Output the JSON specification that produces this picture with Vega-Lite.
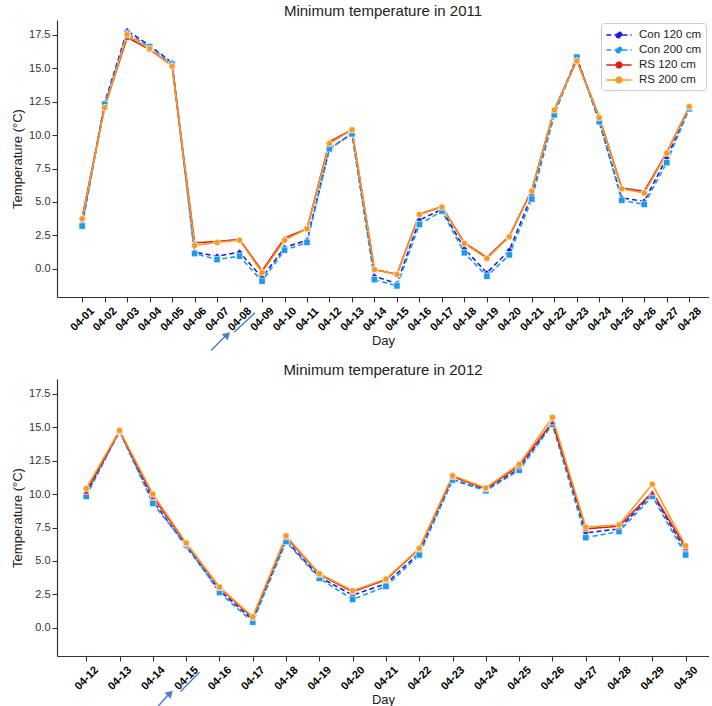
{
  "$schema": "https://vega.github.io/schema/vega-lite/v6.json",
  "padding": {"left": 11, "top": 4, "right": 0, "bottom": 0},
  "datasets": {
    "t2011": [
      {"day": "04-01", "Con 120 cm": 3.35, "Con 200 cm": 3.2, "RS 120 cm": 3.85, "RS 200 cm": 3.75},
      {"day": "04-02", "Con 120 cm": 12.4, "Con 200 cm": 12.3, "RS 120 cm": 12.1, "RS 200 cm": 12.05},
      {"day": "04-03", "Con 120 cm": 17.8, "Con 200 cm": 17.6, "RS 120 cm": 17.3, "RS 200 cm": 17.5},
      {"day": "04-04", "Con 120 cm": 16.7, "Con 200 cm": 16.6, "RS 120 cm": 16.4, "RS 200 cm": 16.45},
      {"day": "04-05", "Con 120 cm": 15.4, "Con 200 cm": 15.3, "RS 120 cm": 15.2, "RS 200 cm": 15.15},
      {"day": "04-06", "Con 120 cm": 1.25, "Con 200 cm": 1.15, "RS 120 cm": 1.95, "RS 200 cm": 1.75},
      {"day": "04-07", "Con 120 cm": 0.95, "Con 200 cm": 0.7, "RS 120 cm": 2.05, "RS 200 cm": 1.98},
      {"day": "04-08", "Con 120 cm": 1.25, "Con 200 cm": 0.95, "RS 120 cm": 2.2, "RS 200 cm": 2.15},
      {"day": "04-09", "Con 120 cm": -0.65, "Con 200 cm": -0.92, "RS 120 cm": -0.15, "RS 200 cm": -0.27},
      {"day": "04-10", "Con 120 cm": 1.6, "Con 200 cm": 1.4, "RS 120 cm": 2.3, "RS 200 cm": 2.15},
      {"day": "04-11", "Con 120 cm": 2.15, "Con 200 cm": 1.98, "RS 120 cm": 3.0, "RS 200 cm": 3.0},
      {"day": "04-12", "Con 120 cm": 9.0, "Con 200 cm": 8.97, "RS 120 cm": 9.5, "RS 200 cm": 9.37},
      {"day": "04-13", "Con 120 cm": 10.1, "Con 200 cm": 10.09, "RS 120 cm": 10.4, "RS 200 cm": 10.39},
      {"day": "04-14", "Con 120 cm": -0.55, "Con 200 cm": -0.8, "RS 120 cm": -0.05, "RS 200 cm": -0.05},
      {"day": "04-15", "Con 120 cm": -1.1, "Con 200 cm": -1.27, "RS 120 cm": -0.4, "RS 200 cm": -0.42},
      {"day": "04-16", "Con 120 cm": 3.65, "Con 200 cm": 3.32, "RS 120 cm": 4.1, "RS 200 cm": 4.07},
      {"day": "04-17", "Con 120 cm": 4.45, "Con 200 cm": 4.32, "RS 120 cm": 4.65, "RS 200 cm": 4.62},
      {"day": "04-18", "Con 120 cm": 1.5, "Con 200 cm": 1.2, "RS 120 cm": 1.95, "RS 200 cm": 1.9},
      {"day": "04-19", "Con 120 cm": -0.3, "Con 200 cm": -0.55, "RS 120 cm": 0.85, "RS 200 cm": 0.78},
      {"day": "04-20", "Con 120 cm": 1.4, "Con 200 cm": 1.05, "RS 120 cm": 2.45, "RS 200 cm": 2.4},
      {"day": "04-21", "Con 120 cm": 5.5, "Con 200 cm": 5.22, "RS 120 cm": 5.9, "RS 200 cm": 5.82},
      {"day": "04-22", "Con 120 cm": 11.6, "Con 200 cm": 11.51, "RS 120 cm": 11.9, "RS 200 cm": 11.87},
      {"day": "04-23", "Con 120 cm": 15.8, "Con 200 cm": 15.83, "RS 120 cm": 15.6, "RS 200 cm": 15.54},
      {"day": "04-24", "Con 120 cm": 11.0, "Con 200 cm": 11.0, "RS 120 cm": 11.35, "RS 200 cm": 11.31},
      {"day": "04-25", "Con 120 cm": 5.3, "Con 200 cm": 5.12, "RS 120 cm": 6.05, "RS 200 cm": 5.99},
      {"day": "04-26", "Con 120 cm": 5.05, "Con 200 cm": 4.82, "RS 120 cm": 5.8, "RS 200 cm": 5.67},
      {"day": "04-27", "Con 120 cm": 8.3, "Con 200 cm": 7.94, "RS 120 cm": 8.7, "RS 200 cm": 8.64},
      {"day": "04-28", "Con 120 cm": 12.0, "Con 200 cm": 11.96, "RS 120 cm": 12.1, "RS 200 cm": 12.13}
    ],
    "t2012": [
      {"day": "04-12", "Con 120 cm": 10.0, "Con 200 cm": 9.83, "RS 120 cm": 10.2, "RS 200 cm": 10.42},
      {"day": "04-13", "Con 120 cm": 14.7, "Con 200 cm": 14.7, "RS 120 cm": 14.72, "RS 200 cm": 14.76},
      {"day": "04-14", "Con 120 cm": 9.5, "Con 200 cm": 9.3, "RS 120 cm": 9.8, "RS 200 cm": 10.0},
      {"day": "04-15", "Con 120 cm": 6.1, "Con 200 cm": 6.2, "RS 120 cm": 6.3, "RS 200 cm": 6.35},
      {"day": "04-16", "Con 120 cm": 2.8, "Con 200 cm": 2.65, "RS 120 cm": 3.0, "RS 200 cm": 3.05},
      {"day": "04-17", "Con 120 cm": 0.6, "Con 200 cm": 0.43, "RS 120 cm": 0.75, "RS 200 cm": 0.83},
      {"day": "04-18", "Con 120 cm": 6.55, "Con 200 cm": 6.45, "RS 120 cm": 6.8, "RS 200 cm": 6.88},
      {"day": "04-19", "Con 120 cm": 3.8, "Con 200 cm": 3.7, "RS 120 cm": 4.0, "RS 200 cm": 4.05},
      {"day": "04-20", "Con 120 cm": 2.45, "Con 200 cm": 2.13, "RS 120 cm": 2.7, "RS 200 cm": 2.78},
      {"day": "04-21", "Con 120 cm": 3.3, "Con 200 cm": 3.1, "RS 120 cm": 3.6, "RS 200 cm": 3.65},
      {"day": "04-22", "Con 120 cm": 5.6, "Con 200 cm": 5.45, "RS 120 cm": 5.9, "RS 200 cm": 5.95},
      {"day": "04-23", "Con 120 cm": 11.1, "Con 200 cm": 11.05, "RS 120 cm": 11.3, "RS 200 cm": 11.38},
      {"day": "04-24", "Con 120 cm": 10.3, "Con 200 cm": 10.25, "RS 120 cm": 10.4, "RS 200 cm": 10.46},
      {"day": "04-25", "Con 120 cm": 11.9, "Con 200 cm": 11.78, "RS 120 cm": 12.1, "RS 200 cm": 12.23},
      {"day": "04-26", "Con 120 cm": 15.3, "Con 200 cm": 15.2, "RS 120 cm": 15.38, "RS 200 cm": 15.73},
      {"day": "04-27", "Con 120 cm": 7.1, "Con 200 cm": 6.75, "RS 120 cm": 7.4, "RS 200 cm": 7.53},
      {"day": "04-28", "Con 120 cm": 7.4, "Con 200 cm": 7.2, "RS 120 cm": 7.6, "RS 200 cm": 7.7},
      {"day": "04-29", "Con 120 cm": 10.0, "Con 200 cm": 9.83, "RS 120 cm": 10.13, "RS 200 cm": 10.73},
      {"day": "04-30", "Con 120 cm": 5.75, "Con 200 cm": 5.45, "RS 120 cm": 6.0, "RS 200 cm": 6.13}
    ],
    "arrow2011": [
      {"part": "shaft", "d0": 6.61, "v0": -6.09, "d1": 7.32, "v1": -4.9},
      {"part": "underline", "d0": 7.66, "v0": -4.72, "d1": 8.59, "v1": -3.27}
    ],
    "head2011": [{"d": 7.34, "v": -4.92}],
    "arrow2012": [
      {"part": "shaft", "d0": 14.15, "v0": -5.87, "d1": 14.51, "v1": -4.86},
      {"part": "underline", "d0": 14.83, "v0": -4.75, "d1": 15.4, "v1": -3.32}
    ],
    "head2012": [{"d": 14.52, "v": -4.88}]
  },
  "vconcat": [
    {
      "width": 652,
      "height": 277,
      "title": {"text": "Minimum temperature in 2011"},
      "layer": [
        {
          "data": {"name": "t2011"},
          "transform": [{"fold": ["Con 120 cm", "Con 200 cm", "RS 120 cm", "RS 200 cm"], "as": ["series", "temp"]}],
          "encoding": {
            "x": {"field": "day", "type": "ordinal", "scale": {"type": "point", "padding": 1.19, "align": 0.56}, "axis": {"title": "Day"}},
            "y": {"field": "temp", "type": "quantitative", "scale": {"domain": [-2.1, 18.6], "nice": false, "zero": false}, "axis": {"values": [0, 2.5, 5, 7.5, 10, 12.5, 15, 17.5], "format": ".1f", "title": "Temperature (°C)"}},
            "color": {
              "field": "series",
              "type": "nominal",
              "scale": {"domain": ["Con 120 cm", "Con 200 cm", "RS 120 cm", "RS 200 cm"], "range": ["#1f1fd6", "#1e9be8", "#dc1f1f", "#f59a23"]},
              "legend": {"orient": "top-right", "offset": 3, "title": null, "symbolSize": 196, "symbolOffset": 6, "labelOffset": 12, "symbolType": "M-1.8,0 L1.8,0 M-0.4,0 A0.4,0.4 0 1,0 0.4,0 A0.4,0.4 0 1,0 -0.4,0 Z"}
            }
          },
          "layer": [
            {
              "mark": {"type": "line", "strokeWidth": 1.6},
              "encoding": {
                "strokeDash": {"field": "series", "type": "nominal", "scale": {"domain": ["Con 120 cm", "Con 200 cm", "RS 120 cm", "RS 200 cm"], "range": [[5, 3], [5, 3], [1, 0], [1, 0]]}, "legend": {"orient": "top-right", "offset": 3, "title": null, "symbolSize": 196, "symbolOffset": 6, "labelOffset": 12, "symbolType": "M-1.8,0 L1.8,0 M-0.4,0 A0.4,0.4 0 1,0 0.4,0 A0.4,0.4 0 1,0 -0.4,0 Z"}}
              }
            },
            {
              "transform": [{"filter": "datum.series === 'Con 120 cm'"}],
              "mark": {"type": "point", "shape": "diamond", "filled": true, "size": 42, "stroke": "white", "strokeWidth": 0.7, "opacity": 1}
            },
            {
              "transform": [{"filter": "datum.series === 'Con 200 cm'"}],
              "mark": {"type": "point", "shape": "square", "filled": true, "size": 42, "stroke": "white", "strokeWidth": 0.7, "opacity": 1}
            },
            {
              "transform": [{"filter": "datum.series === 'RS 120 cm'"}],
              "mark": {"type": "point", "shape": "triangle-up", "filled": true, "size": 42, "stroke": "white", "strokeWidth": 0.7, "opacity": 1}
            },
            {
              "transform": [{"filter": "datum.series === 'RS 200 cm'"}],
              "mark": {"type": "point", "filled": true, "size": 42, "stroke": "white", "strokeWidth": 0.7, "opacity": 1}
            }
          ]
        },
        {
          "layer": [
            {
              "data": {"name": "arrow2011"},
              "mark": {"type": "rule", "color": "#4a7dc4", "strokeWidth": 1.4},
              "encoding": {
                "x": {"field": "d0", "type": "quantitative", "scale": {"domain": [-0.337, 29.05], "nice": false, "zero": false}, "axis": null},
                "x2": {"field": "d1"},
                "y": {"field": "v0", "type": "quantitative", "scale": {"domain": [-2.1, 18.6], "nice": false, "zero": false}, "axis": {"values": [0, 2.5, 5, 7.5, 10, 12.5, 15, 17.5], "format": ".1f", "title": "Temperature (°C)"}},
                "y2": {"field": "v1"}
              }
            },
            {
              "data": {"name": "head2011"},
              "mark": {"type": "point", "shape": "triangle-up", "filled": true, "color": "#4a7dc4", "size": 70, "angle": 45, "opacity": 1},
              "encoding": {
                "x": {"field": "d", "type": "quantitative", "scale": {"domain": [-0.337, 29.05], "nice": false, "zero": false}, "axis": null},
                "y": {"field": "v", "type": "quantitative", "scale": {"domain": [-2.1, 18.6], "nice": false, "zero": false}, "axis": {"values": [0, 2.5, 5, 7.5, 10, 12.5, 15, 17.5], "format": ".1f", "title": "Temperature (°C)"}}
              }
            }
          ]
        }
      ],
      "resolve": {"scale": {"x": "independent"}}
    },
    {
      "width": 652,
      "height": 277,
      "title": {"text": "Minimum temperature in 2012"},
      "layer": [
        {
          "data": {"name": "t2012"},
          "transform": [{"fold": ["Con 120 cm", "Con 200 cm", "RS 120 cm", "RS 200 cm"], "as": ["series", "temp"]}],
          "encoding": {
            "x": {"field": "day", "type": "ordinal", "scale": {"type": "point", "padding": 0.79, "align": 0.556}, "axis": {"title": "Day"}},
            "y": {"field": "temp", "type": "quantitative", "scale": {"domain": [-2.1, 18.6], "nice": false, "zero": false}, "axis": {"values": [0, 2.5, 5, 7.5, 10, 12.5, 15, 17.5], "format": ".1f", "title": "Temperature (°C)"}},
            "color": {"field": "series", "type": "nominal", "scale": {"domain": ["Con 120 cm", "Con 200 cm", "RS 120 cm", "RS 200 cm"], "range": ["#1f1fd6", "#1e9be8", "#dc1f1f", "#f59a23"]}, "legend": null}
          },
          "layer": [
            {
              "mark": {"type": "line", "strokeWidth": 1.6},
              "encoding": {
                "strokeDash": {"field": "series", "type": "nominal", "scale": {"domain": ["Con 120 cm", "Con 200 cm", "RS 120 cm", "RS 200 cm"], "range": [[5, 3], [5, 3], [1, 0], [1, 0]]}, "legend": null}
              }
            },
            {
              "transform": [{"filter": "datum.series === 'Con 120 cm'"}],
              "mark": {"type": "point", "shape": "diamond", "filled": true, "size": 42, "stroke": "white", "strokeWidth": 0.7, "opacity": 1}
            },
            {
              "transform": [{"filter": "datum.series === 'Con 200 cm'"}],
              "mark": {"type": "point", "shape": "square", "filled": true, "size": 42, "stroke": "white", "strokeWidth": 0.7, "opacity": 1}
            },
            {
              "transform": [{"filter": "datum.series === 'RS 120 cm'"}],
              "mark": {"type": "point", "shape": "triangle-up", "filled": true, "size": 42, "stroke": "white", "strokeWidth": 0.7, "opacity": 1}
            },
            {
              "transform": [{"filter": "datum.series === 'RS 200 cm'"}],
              "mark": {"type": "point", "filled": true, "size": 42, "stroke": "white", "strokeWidth": 0.7, "opacity": 1}
            }
          ]
        },
        {
          "layer": [
            {
              "data": {"name": "arrow2012"},
              "mark": {"type": "rule", "color": "#4a7dc4", "strokeWidth": 1.4},
              "encoding": {
                "x": {"field": "d0", "type": "quantitative", "scale": {"domain": [11.121, 30.7], "nice": false, "zero": false}, "axis": null},
                "x2": {"field": "d1"},
                "y": {"field": "v0", "type": "quantitative", "scale": {"domain": [-2.1, 18.6], "nice": false, "zero": false}, "axis": {"values": [0, 2.5, 5, 7.5, 10, 12.5, 15, 17.5], "format": ".1f", "title": "Temperature (°C)"}},
                "y2": {"field": "v1"}
              }
            },
            {
              "data": {"name": "head2012"},
              "mark": {"type": "point", "shape": "triangle-up", "filled": true, "color": "#4a7dc4", "size": 70, "angle": 45, "opacity": 1},
              "encoding": {
                "x": {"field": "d", "type": "quantitative", "scale": {"domain": [11.121, 30.7], "nice": false, "zero": false}, "axis": null},
                "y": {"field": "v", "type": "quantitative", "scale": {"domain": [-2.1, 18.6], "nice": false, "zero": false}, "axis": {"values": [0, 2.5, 5, 7.5, 10, 12.5, 15, 17.5], "format": ".1f", "title": "Temperature (°C)"}}
              }
            }
          ]
        }
      ],
      "resolve": {"scale": {"x": "independent"}}
    }
  ],
  "spacing": 11,
  "resolve": {"legend": {"color": "independent", "shape": "independent", "strokeDash": "independent"}},
  "config": {
    "font": "Liberation Sans",
    "view": {"stroke": null},
    "axis": {"grid": false, "domainColor": "#333", "tickColor": "#333", "domainWidth": 1.2, "tickWidth": 1.1, "tickSize": 5, "labelFontSize": 11, "labelColor": "#333", "titleFontSize": 13, "titleFontWeight": "normal", "titleColor": "#222"},
    "axisX": {"labelAngle": -45, "labelAlign": "center", "labelBaseline": "middle", "labelPadding": 17, "labelFontWeight": "bold", "labelColor": "#000", "labelFontSize": 11, "titlePadding": 2},
    "axisY": {"labelPadding": 2, "titlePadding": 4, "labelOverlap": false},
    "title": {"fontSize": 15, "fontWeight": "normal", "color": "#222", "offset": 1},
    "legend": {"strokeColor": "#cccccc", "fillColor": "white", "padding": 4, "cornerRadius": 3, "labelFontSize": 11.5, "labelColor": "#222", "rowPadding": 1, "symbolStrokeWidth": 1.6}
  }
}
